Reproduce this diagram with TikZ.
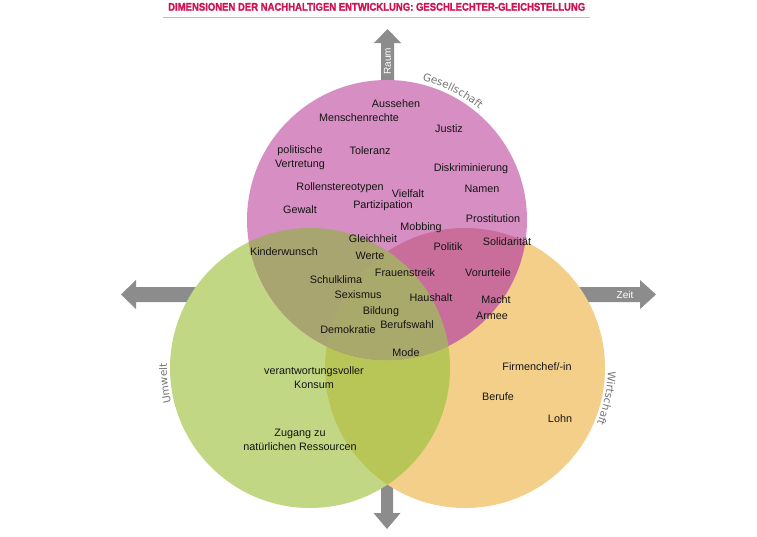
\documentclass[tikz,border=0pt]{standalone}
\usepackage{graphicx}
\usepackage{fontspec}
\setmainfont{Liberation Sans}
\newfontfamily\curvfont{DejaVu Sans}
\newfontfamily\titlefont{Liberation Sans}[BoldFeatures={FakeBold=1.5}]
\usetikzlibrary{calc,decorations.text}
\definecolor{pinkc}{HTML}{D78EC3}
\definecolor{greenc}{HTML}{C2D783}
\definecolor{orangec}{HTML}{F3CF8A}
\definecolor{pgc}{HTML}{A9A570}
\definecolor{poc}{HTML}{C96E9B}
\definecolor{goc}{HTML}{B7C656}
\definecolor{tric}{HTML}{AAA96C}
\definecolor{arrowgray}{HTML}{8C8C8C}
\definecolor{titlered}{HTML}{CF1350}
\definecolor{titleline}{HTML}{EBA5BE}
\definecolor{curvgray}{HTML}{767676}
\definecolor{txt}{HTML}{141414}
\begin{document}
\begin{tikzpicture}[x=1pt,y=-1pt,
  lbl/.style={font=\fontsize{10.8}{14}\selectfont, text=txt, inner sep=0pt, anchor=base},
  lbltwo/.style={font=\fontsize{10.8}{14}\selectfont, text=txt, inner sep=0pt, align=center, anchor=center},
  bigarrow/.style={fill=arrowgray},
  arrowlbl/.style={font=\fontsize{10}{12}\selectfont, text=white, inner sep=0pt},
  curved/.style={decorate, decoration={text along path, text align=center,
     text={|\curvfont\fontsize{10.5}{13}\selectfont\color{curvgray}|#1}}}]
\useasboundingbox (0,0) rectangle (757,536);
\fill[white] (0,0) rectangle (757,536);
% title
\node[anchor=base west, inner sep=0pt, text=titlered] (title) at (168,10.7)
  {\resizebox{417pt}{7.8pt}{\titlefont\bfseries DIMENSIONEN DER NACHHALTIGEN ENTWICKLUNG: GESCHLECHTER-GLEICHSTELLUNG}};
\coordinate (tl) at (163,17);
\coordinate (tr) at (590,17);
\draw[titleline, line width=0.8] (tl) -- (tr);
% arrows (behind circles)
\fill[bigarrow] (381,95) -- (381,43) -- (374,43) -- (387.5,29) -- (401,43) -- (394,43) -- (394,95) -- cycle;
\fill[bigarrow] (381,470) -- (381,513) -- (373.5,513) -- (387,529) -- (400.5,513) -- (393,513) -- (393,470) -- cycle;
\fill[bigarrow] (200,287) -- (136,287) -- (136,280) -- (121,294.5) -- (136,309) -- (136,302) -- (200,302) -- cycle;
\fill[bigarrow] (570,287) -- (640,287) -- (640,280) -- (656,294.5) -- (640,309) -- (640,302) -- (570,302) -- cycle;
\node[arrowlbl, rotate=90] (raum) at (387.5,61) {Raum};
\node[arrowlbl] (zeit) at (625,294.5) {Zeit};
% circles
\coordinate (P) at (387,220);
\coordinate (G) at (310,368);
\coordinate (O) at (465,368);
\fill[greenc] (G) circle[radius=140];
\fill[orangec] (O) circle[radius=140];
\begin{scope}
  \clip (G) circle[radius=140];
  \fill[goc] (O) circle[radius=140];
\end{scope}
\fill[pinkc] (P) circle[radius=140];
\begin{scope}
  \clip (P) circle[radius=140];
  \fill[poc] (O) circle[radius=140];
  \fill[pgc] (G) circle[radius=140];
  \clip (G) circle[radius=140];
  \fill[tric] (O) circle[radius=140];
\end{scope}
% curved circle names
\path[curved=Gesellschaft] ($(P)+(-86:144)$) arc[start angle=-86, end angle=-40, radius=144];
\path[curved=Umwelt] ($(G)+(-206:143)$) arc[start angle=-206, end angle=-166, radius=143];
\path[curved=Wirtschaft] ($(O)+(-12:143)$) arc[start angle=-12, end angle=36, radius=143];
% labels
\node[lbl] (aussehen) at (396,107) {Aussehen};
\node[lbl] (menschen) at (359,121) {Menschenrechte};
\node[lbl] (justiz) at (449,132) {Justiz};
\node[lbltwo] (politische) at (300,157.5) {politische\\Vertretung};
\node[lbl] (toleranz) at (370,154) {Toleranz};
\node[lbl] (diskr) at (471,171) {Diskriminierung};
\node[lbl] (rollen) at (340,190) {Rollenstereotypen};
\node[lbl] (vielfalt) at (408,197) {Vielfalt};
\node[lbl] (namen) at (482,192) {Namen};
\node[lbl] (gewalt) at (300,213) {Gewalt};
\node[lbl] (partiz) at (383,208) {Partizipation};
\node[lbl] (prost) at (493,222) {Prostitution};
\node[lbl] (mobbing) at (421,230) {Mobbing};
\node[lbl] (gleich) at (373,242) {Gleichheit};
\node[lbl] (politik) at (448,250) {Politik};
\node[lbl] (solid) at (507,245) {Solidarität};
\node[lbl] (kinder) at (284,255) {Kinderwunsch};
\node[lbl] (werte) at (370,259) {Werte};
\node[lbl] (frauen) at (405,276) {Frauenstreik};
\node[lbl] (vorurteile) at (488,276) {Vorurteile};
\node[lbl] (schul) at (336,283) {Schulklima};
\node[lbl] (sexismus) at (358,298) {Sexismus};
\node[lbl] (haushalt) at (431,301) {Haushalt};
\node[lbl] (macht) at (496,303) {Macht};
\node[lbl] (bildung) at (381,314) {Bildung};
\node[lbl] (armee) at (492,319) {Armee};
\node[lbl] (berufswahl) at (407,328) {Berufswahl};
\node[lbl] (demokratie) at (348,333) {Demokratie};
\node[lbl] (mode) at (406,356) {Mode};
\node[lbltwo] (konsum) at (314,377.5) {verantwortungsvoller\\Konsum};
\node[lbl] (firmen) at (537,370) {Firmenchef/-in};
\node[lbl] (berufe) at (498,400) {Berufe};
\node[lbl] (lohn) at (560,422) {Lohn};
\node[lbltwo] (zugang) at (300,440) {Zugang zu\\natürlichen Ressourcen};
\end{tikzpicture}
\end{document}
